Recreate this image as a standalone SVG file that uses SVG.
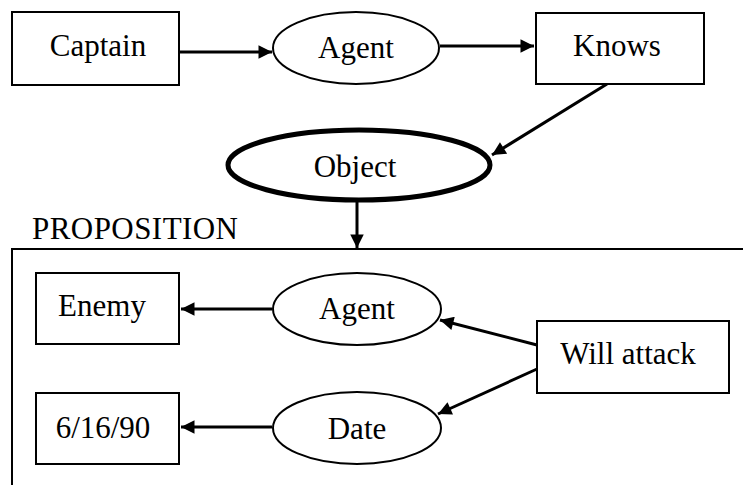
<svg xmlns="http://www.w3.org/2000/svg" width="743" height="485" viewBox="0 0 743 485">
  <defs>
    <marker id="arrow" viewBox="0 0 10 10" refX="10" refY="5" markerWidth="5" markerHeight="4.5" markerUnits="strokeWidth" orient="auto">
      <path d="M0,0 L10,5 L0,10 z" fill="#000"/>
    </marker>
    <style>
      .box { fill: #fff; stroke: #000; stroke-width: 2; }
      .ell { fill: #fff; stroke: #000; stroke-width: 2; }
      .ell-bold { fill: #fff; stroke: #000; stroke-width: 5; }
      .lbl { font-family: "Liberation Serif", "Times New Roman", serif; font-size: 31px; fill: #000; text-anchor: middle; }
      .title { font-family: "Liberation Serif", "Times New Roman", serif; font-size: 31px; fill: #000; }
      .edge { fill: none; stroke: #000; stroke-width: 3; marker-end: url(#arrow); }
      .frame { fill: none; stroke: #000; stroke-width: 2; }
    </style>
  </defs>
  <rect width="743" height="485" fill="#fff"/>

  <!-- proposition frame -->
  <g id="proposition">
    <path class="frame" d="M12,485 L12,249 L743,249"/>
    <text class="title" x="32" y="239" textLength="206">PROPOSITION</text>
  </g>

  <g id="connectors">
    <line class="edge" x1="180" y1="52" x2="272" y2="52"/>
    <line class="edge" x1="440" y1="46" x2="534" y2="46"/>
    <line class="edge" x1="607" y1="84" x2="492" y2="155"/>
    <line class="edge" x1="357" y1="201" x2="357" y2="248"/>
    <line class="edge" x1="272" y1="309" x2="181" y2="309"/>
    <line class="edge" x1="272" y1="427" x2="181" y2="427"/>
    <line class="edge" x1="537" y1="345" x2="440" y2="320"/>
    <line class="edge" x1="537" y1="369" x2="438" y2="414"/>
  </g>

  <g id="captain">
    <rect class="box" x="12" y="12" width="167" height="73"/>
    <text class="lbl" x="98" y="56">Captain</text>
  </g>
  <g id="agent1">
    <ellipse class="ell" cx="356" cy="48" rx="83" ry="36"/>
    <text class="lbl" x="356" y="58">Agent</text>
  </g>
  <g id="knows">
    <rect class="box" x="536" y="13" width="168" height="71"/>
    <text class="lbl" x="617" y="56">Knows</text>
  </g>
  <g id="object">
    <ellipse class="ell-bold" cx="359" cy="165" rx="131" ry="35"/>
    <text class="lbl" x="355" y="177">Object</text>
  </g>
  <g id="enemy">
    <rect class="box" x="36" y="273" width="143" height="71"/>
    <text class="lbl" x="102" y="316">Enemy</text>
  </g>
  <g id="agent2">
    <ellipse class="ell" cx="357" cy="309" rx="84" ry="36"/>
    <text class="lbl" x="357" y="319">Agent</text>
  </g>
  <g id="date-value">
    <rect class="box" x="36" y="393" width="143" height="71"/>
    <text class="lbl" x="103" y="438">6/16/90</text>
  </g>
  <g id="date">
    <ellipse class="ell" cx="357" cy="428" rx="84" ry="36"/>
    <text class="lbl" x="357" y="439">Date</text>
  </g>
  <g id="will-attack">
    <rect class="box" x="537" y="321" width="192" height="72"/>
    <text class="lbl" x="628" y="364">Will attack</text>
  </g>
</svg>
